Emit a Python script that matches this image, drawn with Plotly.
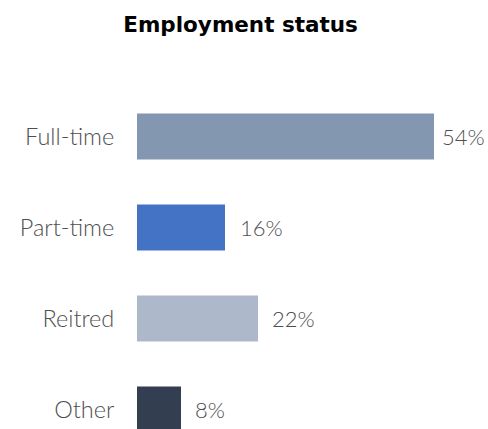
import plotly.graph_objects as go

# Employment status breakdown (percent of respondents)
categories = ["Full-time", "Part-time", "Reitred", "Other"]
values = [54, 16, 22, 8]
value_labels = ["54%", "16%", "22%", "8%"]
bar_colors = ["#8497B0", "#4472C4", "#ADB9CA", "#333F50"]
label_gaps = [6, 13, 12, 12]

FONT = "Lato"
TITLE_FONT = "DejaVu Sans"
GREY = "#4F4F4F"

fig = go.Figure(
    go.Bar(
        x=values,
        y=categories,
        orientation="h",
        width=0.505,
        marker=dict(color=bar_colors, line=dict(width=0)),
        hoverinfo="skip",
    )
)

# value labels just past the end of each bar
for cat, val, lab, gap in zip(categories, values, value_labels, label_gaps):
    fig.add_annotation(
        x=val, y=cat, text=lab, showarrow=False,
        xanchor="left", yanchor="middle", xshift=gap,
        font=dict(family=FONT, size=22, color=GREY, weight=300),
    )

fig.update_layout(
    width=488,
    height=429,
    margin=dict(l=137, r=10, t=91, b=0),
    paper_bgcolor="white",
    plot_bgcolor="white",
    showlegend=False,
    title=dict(
        text="<b>Employment status</b>",
        x=0.493, xanchor="center", y=0.944, yanchor="middle",
        font=dict(family=TITLE_FONT, size=21.5, color="black"),
    ),
    xaxis=dict(range=[0, 62], visible=False),
    yaxis=dict(
        type="category",
        categoryorder="array",
        categoryarray=categories,
        range=[3.214, -0.5],
        showgrid=False,
        zeroline=False,
        showline=False,
        ticks="outside",
        ticklen=17,
        tickcolor="rgba(0,0,0,0)",
        tickfont=dict(family=FONT, size=23.5, color=GREY, weight=300),
    ),
)

fig.write_html("out.html")
